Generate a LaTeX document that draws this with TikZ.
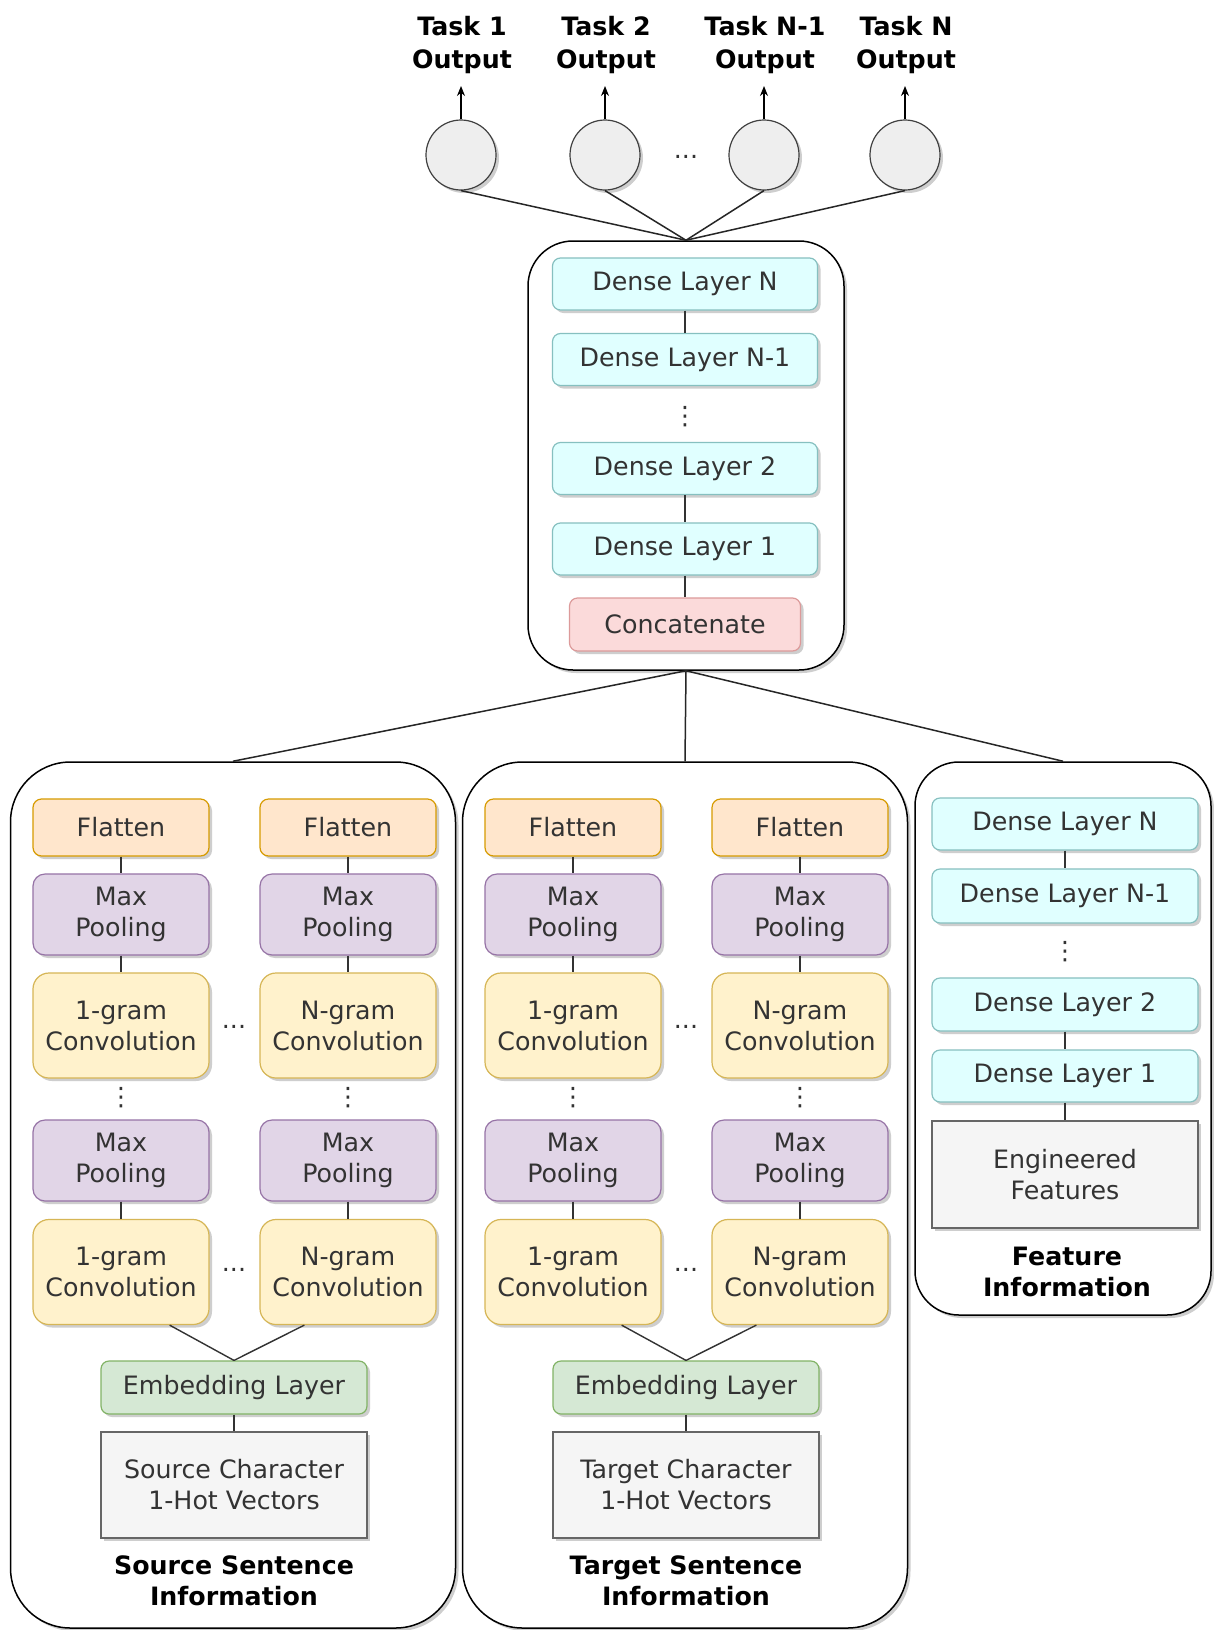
\documentclass[tikz,border=0pt]{standalone}
\usepackage{fontspec}
\setmainfont{DejaVu Sans}
\usetikzlibrary{shadows,arrows.meta}
\definecolor{txt}{HTML}{333333}
\definecolor{denseF}{HTML}{E0FFFF}
\definecolor{denseD}{HTML}{86C0C0}
\definecolor{catF}{HTML}{FBDADA}
\definecolor{catD}{HTML}{DC9A9A}
\definecolor{flF}{HTML}{FFE6CC}
\definecolor{flD}{HTML}{D79B00}
\definecolor{mpF}{HTML}{E1D5E7}
\definecolor{mpD}{HTML}{9673A6}
\definecolor{cvF}{HTML}{FFF2CC}
\definecolor{cvD}{HTML}{D6B656}
\definecolor{emF}{HTML}{D5E8D4}
\definecolor{emD}{HTML}{82B366}
\definecolor{inF}{HTML}{F5F5F5}
\definecolor{inD}{HTML}{666666}
\definecolor{circF}{HTML}{EEEEEE}
\definecolor{lineC}{HTML}{333333}
\newcommand\fsz{\fontsize{25.3}{31}\selectfont}
\newcommand\tsz{\fontsize{25.3}{33}\selectfont}
\begin{document}
\begin{tikzpicture}[x=1pt,y=-1pt,
  every node/.style={font=\fsz},
  shd/.style={drop shadow={shadow xshift=3pt,shadow yshift=-3pt,opacity=0.35,fill=black!55}},
  box/.style={draw, line width=1.2pt, shd, align=center, text=txt, inner sep=0pt},
  dense/.style={box, fill=denseF, draw=denseD, rounded corners=8pt, minimum width=265pt, minimum height=52pt},
  concat/.style={box, fill=catF, draw=catD, rounded corners=8pt, minimum width=231pt, minimum height=53pt},
  flat/.style={box, fill=flF, draw=flD, rounded corners=8.5pt, minimum width=176pt, minimum height=57pt},
  pool/.style={box, fill=mpF, draw=mpD, rounded corners=12pt, minimum width=176pt, minimum height=81pt},
  conv/.style={box, fill=cvF, draw=cvD, rounded corners=16pt, minimum width=176pt, minimum height=105pt},
  embed/.style={box, fill=emF, draw=emD, rounded corners=8pt, minimum width=266pt, minimum height=53pt},
  inbox/.style={box, fill=inF, draw=inD, minimum width=266pt, minimum height=106pt},
  container/.style={draw=black, line width=1.5pt, fill=white, shd, inner sep=0pt},
  lab/.style={font=\bfseries\fsz, text=black, align=center, inner sep=0pt},
  tasklab/.style={font=\bfseries\tsz, text=black, align=center, inner sep=0pt},
  dotlab/.style={text=txt, inner sep=0pt},
  outc/.style={circle, draw=black!75, fill=circF, line width=1.2pt, minimum size=70pt, inner sep=0pt, shd},
  conn/.style={draw=lineC, line width=1.4pt},
  link/.style={draw=black!85, line width=1.5pt},
  arr/.style={draw=black, line width=1.4pt, -{Stealth[length=10pt,width=8pt]}}
]
\useasboundingbox[fill=white] (0,0) rectangle (1213,1630);

% ---- output circles ----
\foreach \i/\cx/\tl in {1/461/Task 1, 2/605/Task 2, 3/764/Task N-1, 4/905/Task N} {
  \node[outc] (c\i) at (\cx,155) {};
  \coordinate (a\i) at (\cx,86);
  \draw[arr] (c\i.north) -- (a\i);
  \node[tasklab] (t\i) at (\cx+1,45) {\tl\\Output};
}
\node[dotlab] (cdots) at (686,157) {...};

% ---- upper container ----
\node[container, rounded corners=45pt, minimum width=316pt, minimum height=429pt] (U) at (686,455.5) {};
\node[dense] (ud4) at (685,284) {Dense Layer N};
\node[dense] (ud3) at (685,359.5) {Dense Layer N-1};
\node[dotlab] (udots) at (685,417) {⋮};
\node[dense] (ud2) at (685,468.5) {Dense Layer 2};
\node[dense] (ud1) at (685,549) {Dense Layer 1};
\node[concat] (cat) at (685,624.5) {Concatenate};
\draw[conn] (ud4.south) -- (ud3.north);
\draw[conn] (ud2.south) -- (ud1.north);
\draw[conn] (ud1.south) -- (cat.north);
\foreach \i in {1,2,3,4} { \draw[link] (c\i.south) -- (U.north); }

% ---- sentence containers ----
\foreach \p/\cx/\word in {S/233/Source, T/685/Target} {
  \node[container, rounded corners=60pt, minimum width=445pt, minimum height=866pt] (\p-box) at (\cx,1195) {};
  \foreach \q/\off/\g in {a/-112/1, b/115/N} {
    \node[flat] (\p-fl\q) at (\cx+\off,827.5) {Flatten};
    \node[pool] (\p-mp\q1) at (\cx+\off,914.5) {Max\\Pooling};
    \node[conv] (\p-cv\q1) at (\cx+\off,1025.5) {\g-gram\\Convolution};
    \node[dotlab] (\p-vd\q) at (\cx+\off,1098) {⋮};
    \node[pool] (\p-mp\q2) at (\cx+\off,1160.5) {Max\\Pooling};
    \node[conv] (\p-cv\q2) at (\cx+\off,1272) {\g-gram\\Convolution};
    \draw[conn] (\p-fl\q.south) -- (\p-mp\q1.north);
    \draw[conn] (\p-mp\q1.south) -- (\p-cv\q1.north);
    \draw[conn] (\p-mp\q2.south) -- (\p-cv\q2.north);
  }
  \node[dotlab] (\p-hd1) at (\cx+1,1027) {...};
  \node[dotlab] (\p-hd2) at (\cx+1,1270) {...};
  \node[embed] (\p-em) at (\cx+1,1387.5) {Embedding Layer};
  \node[inbox] (\p-in) at (\cx+1,1485) {\word{} Character\\1-Hot Vectors};
  \node[lab] (\p-lab) at (\cx+1,1581) {\word{} Sentence\\Information};
  \draw[conn] ([xshift=-40pt]\p-cva2.south east) -- (\p-em.north);
  \draw[conn] ([xshift=45pt]\p-cvb2.south west) -- (\p-em.north);
  \draw[conn] (\p-em.south) -- (\p-in.north);
}

% ---- feature container ----
\node[container, rounded corners=44pt, minimum width=296pt, minimum height=553pt] (R) at (1063,1038.5) {};
\node[dense, minimum width=266pt] (fd4) at (1065,824) {Dense Layer N};
\node[dense, minimum width=266pt, minimum height=54pt] (fd3) at (1065,896) {Dense Layer N-1};
\node[dotlab] (fdots) at (1065,952) {⋮};
\node[dense, minimum width=266pt, minimum height=53pt] (fd2) at (1065,1004.5) {Dense Layer 2};
\node[dense, minimum width=266pt] (fd1) at (1065,1076) {Dense Layer 1};
\node[inbox, minimum height=107pt] (eng) at (1065,1174.5) {Engineered\\Features};
\node[lab] (flab) at (1067,1271.5) {Feature\\Information};
\draw[conn] (fd4.south) -- (fd3.north);
\draw[conn] (fd2.south) -- (fd1.north);
\draw[conn] (fd1.south) -- (eng.north);

% ---- links from concatenation block ----
\draw[link] (U.south) -- (S-box.north);
\draw[link] (U.south) -- (T-box.north);
\draw[link] (U.south) -- (R.north);
\end{tikzpicture}
\end{document}
